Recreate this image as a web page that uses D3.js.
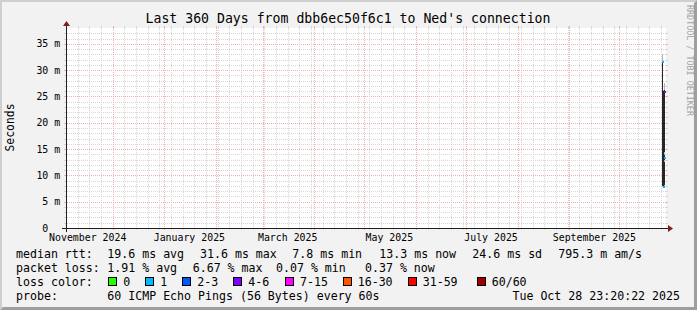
<!DOCTYPE html>
<html>
<head>
<meta charset="utf-8">
<script src="https://cdn.jsdelivr.net/npm/d3@7"></script>
<style>
    body { margin: 0; background: #fff; }
    svg text { font-family: "DejaVu Sans Mono", monospace; white-space: pre; fill: #000; }
</style>
</head>
<body>
<div id="chart"></div>
<script>
// graph period
const endTime = new Date(Date.UTC(2025, 9, 28, 23, 20, 22));
const spanDays = 360;
const stepHours = 12;

// rrd rows that hold data (12h each), values in ms
const bucketTimes = ["2025-10-26T12:00:00Z", "2025-10-27T00:00:00Z", "2025-10-27T12:00:00Z", "2025-10-28T00:00:00Z"];
const medians = [31.6, 7.8, 25.8, 13.3];
const lossPct = [0.54, 0.07, 6.67, 0.37];
const smokeLo = [7.8, 7.6, 8.0, 12.5];
const smokeHi = [33.0, 26.2, 27.6, 14.5];
const coreLo = [8.0, 7.8, 8.2, 13.0];
const coreHi = [31.6, 26.0, 26.2, 13.8];

// loss colour classes (lost pings out of 60)
const lossLabels = ["0", "1", "2-3", "4-6", "7-15", "16-30", "31-59", "60/60"];
const lossColors = ["#26ff00", "#00b8ff", "#0059ff", "#7e00ff", "#ff00ff", "#ff5500", "#ff0000", "#a10000"];
const lossUpper = [0, 1, 3, 6, 15, 30, 59, 60];

// legend texts
const title = "Last 360 Days from dbb6ec50f6c1 to Ned's connection";
const rttStats = ["19.6 ms avg", "31.6 ms max", "7.8 ms min", "13.3 ms now", "24.6 ms sd", "795.3 m am/s"];
const lossStats = ["1.91 % avg", "6.67 % max", "0.07 % min", "0.37 % now"];
const probeText = "60 ICMP Echo Pings (56 Bytes) every 60s";
const stampText = "Tue Oct 28 23:20:22 2025";

const yMax = 38;
const yMajor = d3.range(0, yMax, 5);
const yMinor = d3.range(1, yMax).filter(v => v % 5 != 0);

const W = 697, H = 310;
const X0 = 66, X1 = 666, Y0 = 228, Y1 = 28;
const startTime = new Date(endTime - spanDays * 86400000);

const x = d3.scaleUtc().domain([startTime, endTime]).range([X0, X1]);
const y = d3.scaleLinear().domain([0, yMax]).range([Y0, Y1]);
const snap = v => Math.round(v) + 0.5;

const svg = d3.select("#chart").append("svg")
    .attr("width", W)
    .attr("height", H);

// background and shading
svg.append("rect").attr("width", W).attr("height", H).attr("fill", "#f2f2f2");
svg.append("path")
    .attr("d", `M0,${H} L2,${H - 2} L2,2 L${W - 2},2 L${W},0 L0,0 Z`)
    .attr("fill", "#cfcfcf");
svg.append("path")
    .attr("d", `M0,${H} L3,${H - 3} L${W - 3},${H - 3} L${W - 3},3 L${W},0 L${W},${H} Z`)
    .attr("fill", "#9e9e9e");
svg.append("rect")
    .attr("x", X0).attr("y", Y1)
    .attr("width", X1 - X0).attr("height", Y0 - Y1)
    .attr("fill", "#fff");

const grid = svg.append("g").attr("shape-rendering", "crispEdges");
const gridGrey = "#d6d6d6", gridRed = "#f0b0b0";

// horizontal grid
yMinor.forEach(v => {
    let yy = snap(y(v));
    grid.append("line").attr("x1", X0 + 0.5).attr("x2", X1).attr("y1", yy).attr("y2", yy)
        .attr("stroke", gridGrey).attr("stroke-dasharray", "1,1");
    grid.append("line").attr("x1", X0 - 2).attr("x2", X0).attr("y1", yy).attr("y2", yy).attr("stroke", gridGrey);
    grid.append("line").attr("x1", X1).attr("x2", X1 + 2).attr("y1", yy).attr("y2", yy).attr("stroke", gridGrey);
});
yMajor.filter(v => v > 0).forEach(v => {
    let yy = snap(y(v));
    grid.append("line").attr("x1", X0 + 0.5).attr("x2", X1).attr("y1", yy).attr("y2", yy)
        .attr("stroke", gridRed).attr("stroke-dasharray", "1,1");
    grid.append("line").attr("x1", X0 - 2).attr("x2", X0).attr("y1", yy).attr("y2", yy).attr("stroke", gridRed);
    grid.append("line").attr("x1", X1).attr("x2", X1 + 2).attr("y1", yy).attr("y2", yy).attr("stroke", gridRed);
});

// vertical grid: weeks (minor), months (major)
const months = d3.utcMonth.range(startTime, endTime);
const monthPx = months.map(m => snap(x(m)));
d3.utcSunday.range(startTime, endTime)
    .map(d => snap(x(d)))
    .filter(px => !monthPx.includes(px))
    .forEach(px => {
        grid.append("line").attr("x1", px).attr("x2", px).attr("y1", Y1).attr("y2", Y0)
            .attr("stroke", gridGrey).attr("stroke-dasharray", "1,1");
        grid.append("line").attr("x1", px).attr("x2", px).attr("y1", Y0).attr("y2", Y0 + 2).attr("stroke", gridGrey);
        grid.append("line").attr("x1", px).attr("x2", px).attr("y1", Y1 - 2).attr("y2", Y1).attr("stroke", gridGrey);
    });
monthPx.forEach(px => {
    grid.append("line").attr("x1", px).attr("x2", px).attr("y1", Y1).attr("y2", Y0)
        .attr("stroke", gridRed).attr("stroke-dasharray", "1,1");
    grid.append("line").attr("x1", px).attr("x2", px).attr("y1", Y0).attr("y2", Y0 + 2).attr("stroke", gridRed);
    grid.append("line").attr("x1", px).attr("x2", px).attr("y1", Y1 - 2).attr("y2", Y1).attr("stroke", gridRed);
});

// smoke and median
const plot = svg.append("g").attr("shape-rendering", "crispEdges");
const stepMs = stepHours * 3600000;
bucketTimes.forEach((t, i) => {
    let t0 = new Date(t);
    let xa = Math.round(x(t0));
    let xb = Math.max(xa + 1, Math.round(x(new Date(+t0 + stepMs))));
    plot.append("rect")
        .attr("x", xa).attr("width", xb - xa)
        .attr("y", y(smokeHi[i])).attr("height", y(smokeLo[i]) - y(smokeHi[i]))
        .attr("fill", "#b4b4b4");
    plot.append("rect")
        .attr("x", xa).attr("width", xb - xa)
        .attr("y", y(coreHi[i])).attr("height", y(coreLo[i]) - y(coreHi[i]))
        .attr("fill", "#262626");
});
bucketTimes.forEach((t, i) => {
    let t0 = new Date(t);
    let xa = Math.round(x(t0));
    let lost = lossPct[i] * 60 / 100;
    let ci = lossUpper.findIndex(u => lost <= u);
    plot.append("rect")
        .attr("x", xa).attr("width", 2)
        .attr("y", Math.round(y(medians[i])) - 1).attr("height", 2)
        .attr("fill", lossColors[ci]);
});

// axes with arrows
const axis = svg.append("g").attr("shape-rendering", "crispEdges");
axis.append("line").attr("x1", X0 - 4).attr("x2", X1 + 4).attr("y1", Y0 + 0.5).attr("y2", Y0 + 0.5)
    .attr("stroke", "#1f1f1f");
axis.append("line").attr("x1", X0 + 0.5).attr("x2", X0 + 0.5).attr("y1", Y0 + 4).attr("y2", Y1 - 4)
    .attr("stroke", "#1f1f1f");
svg.append("path")
    .attr("d", `M${X1 + 2},${Y0 - 3} L${X1 + 2},${Y0 + 4} L${X1 + 7},${Y0 + 0.5} Z`)
    .attr("fill", "#801f1f");
svg.append("path")
    .attr("d", `M${X0 - 3},${Y1 - 2} L${X0 + 4},${Y1 - 2} L${X0 + 0.5},${Y1 - 7} Z`)
    .attr("fill", "#801f1f");

// y labels
const ylab = svg.append("g").style("font-size", "9.9px");
yMajor.forEach(v => {
    let yy = y(v) + 3.6;
    ylab.append("text").attr("x", 48.3).attr("y", yy).attr("text-anchor", "end").text(v);
    if (v > 0) ylab.append("text").attr("x", 54.2).attr("y", yy).text("m");
});

// x labels, every two months, centred mid month
const fmtMonth = d3.utcFormat("%B %Y");
d3.utcMonth.every(2).range(d3.utcMonth.offset(startTime, -2), endTime)
    .map(m => ({ m, t: new Date(+m + 15 * 86400000) }))
    .filter(d => d.t >= startTime && d.t <= endTime)
    .forEach(d => {
        svg.append("text")
            .attr("x", x(d.t)).attr("y", 241.3)
            .attr("text-anchor", "middle")
            .style("font-size", "9.9px")
            .text(fmtMonth(d.m));
    });

// title, vertical label, watermark
svg.append("text").attr("x", 348).attr("y", 23).attr("text-anchor", "middle")
    .style("font-size", "13.2px").text(title);
svg.append("text")
    .attr("transform", "translate(14.3,127.5) rotate(-90)")
    .attr("text-anchor", "middle")
    .style("font-size", "11.4px")
    .text("Seconds");
svg.append("text")
    .attr("transform", "translate(686.5,5) rotate(90)")
    .style("font-size", "8.4px")
    .style("fill", "#a2a2a2")
    .text("RRDTOOL / TOBI OETIKER");

// legend
const rowY = i => 257.8 + 14.15 * i;
const leg = svg.append("g").style("font-size", "11.6px");
const rttX = [107.3, 200, 292.3, 379.3, 472.3, 558.3];
const lossX = [107.3, 192.7, 276, 365];
const boxX = [108.3, 145.3, 182.3, 233.3, 285, 342.7, 407.7, 476.7];

leg.append("text").attr("x", 16).attr("y", rowY(0)).text("median rtt:");
rttStats.forEach((s, i) => leg.append("text").attr("x", rttX[i]).attr("y", rowY(0)).text(s));
leg.append("text").attr("x", 16).attr("y", rowY(1)).text("packet loss:");
lossStats.forEach((s, i) => leg.append("text").attr("x", lossX[i]).attr("y", rowY(1)).text(s));
leg.append("text").attr("x", 16).attr("y", rowY(2)).text("loss color:");
lossLabels.forEach((l, i) => {
    leg.append("rect")
        .attr("x", Math.round(boxX[i]) + 0.5).attr("y", 277.5)
        .attr("width", 8).attr("height", 8)
        .attr("fill", lossColors[i]).attr("stroke", "#000");
    leg.append("text").attr("x", boxX[i] + 15).attr("y", rowY(2)).text(l);
});
leg.append("text").attr("x", 16).attr("y", rowY(3)).text("probe:");
leg.append("text").attr("x", 107.3).attr("y", rowY(3)).text(probeText);
leg.append("text").attr("x", 680).attr("y", rowY(3)).attr("text-anchor", "end").text(stampText);
</script>
</body>
</html>
